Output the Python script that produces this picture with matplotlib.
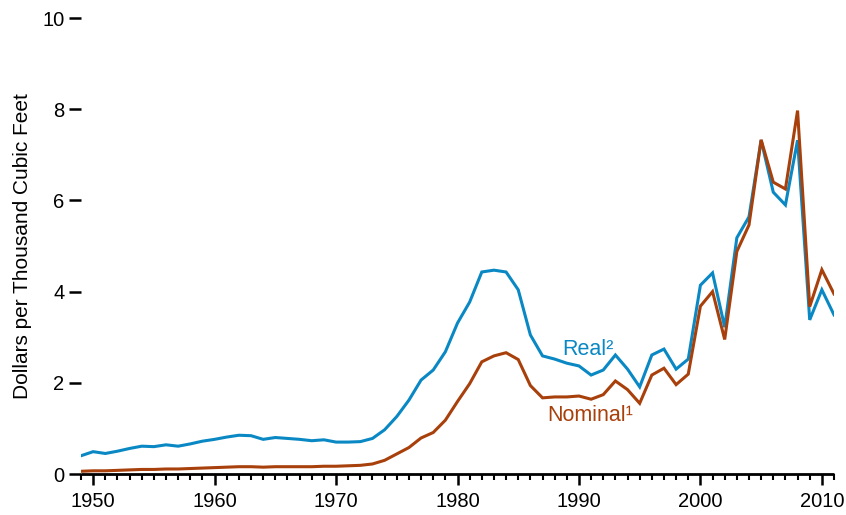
import matplotlib
matplotlib.use("Agg")
import matplotlib.pyplot as plt
from matplotlib.ticker import MultipleLocator

plt.rcParams['font.family'] = ['Liberation Sans', 'DejaVu Sans']

years = list(range(1949, 2012))
nominal = [0.06, 0.07, 0.07, 0.08, 0.09, 0.10, 0.10, 0.11, 0.11, 0.12,
           0.13, 0.14, 0.15, 0.16, 0.16, 0.15, 0.16, 0.16, 0.16, 0.16,
           0.17, 0.17, 0.18, 0.19, 0.22, 0.30, 0.44, 0.58, 0.79, 0.91,
           1.18, 1.59, 1.98, 2.46, 2.59, 2.66, 2.51, 1.94, 1.67, 1.69,
           1.69, 1.71, 1.64, 1.74, 2.04, 1.85, 1.55, 2.17, 2.32, 1.96,
           2.19, 3.68, 4.00, 2.95, 4.88, 5.46, 7.33, 6.40, 6.25, 7.97,
           3.67, 4.48, 3.95]
real = [0.40, 0.49, 0.45, 0.50, 0.56, 0.61, 0.60, 0.64, 0.61, 0.66,
        0.72, 0.76, 0.81, 0.85, 0.84, 0.76, 0.80, 0.78, 0.76, 0.73,
        0.75, 0.70, 0.70, 0.71, 0.78, 0.97, 1.26, 1.62, 2.06, 2.28,
        2.68, 3.31, 3.77, 4.43, 4.47, 4.43, 4.04, 3.05, 2.59, 2.52,
        2.43, 2.37, 2.17, 2.28, 2.61, 2.30, 1.91, 2.61, 2.74, 2.30,
        2.52, 4.14, 4.41, 3.22, 5.18, 5.64, 7.32, 6.18, 5.90, 7.32,
        3.38, 4.04, 3.49]
y_ticks = [0, 2, 4, 6, 8, 10]
x_ticks = [1950, 1960, 1970, 1980, 1990, 2000, 2010]

blue = '#0a88c4'
brown = '#a8400c'

fig = plt.figure(figsize=(8.46, 5.15), dpi=100)
ax = fig.add_axes([81/846, 1 - 474/515, (834 - 81)/846, (474 - 18)/515])

ax.plot(years, real, color=blue, lw=2.2, solid_joinstyle='miter')
ax.plot(years, nominal, color=brown, lw=2.2, solid_joinstyle='miter')

ax.set_xlim(1949, 2011)
ax.set_ylim(0, 10)

for s in ['top', 'right', 'left']:
    ax.spines[s].set_visible(False)
ax.spines['bottom'].set_linewidth(2)
ax.spines['bottom'].set_capstyle('butt')

ax.set_yticks(y_ticks)
ax.set_yticklabels([str(v) for v in y_ticks])
ax.set_xticks(x_ticks)
ax.set_xticklabels([str(v) for v in x_ticks])
ax.xaxis.set_minor_locator(MultipleLocator(1))

ax.tick_params(axis='y', length=9, width=1.8, pad=3, labelsize=14.5, direction='out')
ax.tick_params(axis='x', which='major', length=8, width=1.8, pad=5, labelsize=14.5, direction='out')
ax.tick_params(axis='x', which='minor', length=4, width=1.5, direction='out')

ax.set_ylabel('Dollars per Thousand Cubic Feet', fontsize=15)
ax.yaxis.set_label_coords(-0.065, 0.5)

ax.text(1990.7, 2.74, 'Real²', color=blue, fontsize=15.5, ha='center', va='center')
ax.text(1990.9, 1.29, 'Nominal¹', color=brown, fontsize=15.5, ha='center', va='center')

fig.savefig('out.png', dpi=100)
